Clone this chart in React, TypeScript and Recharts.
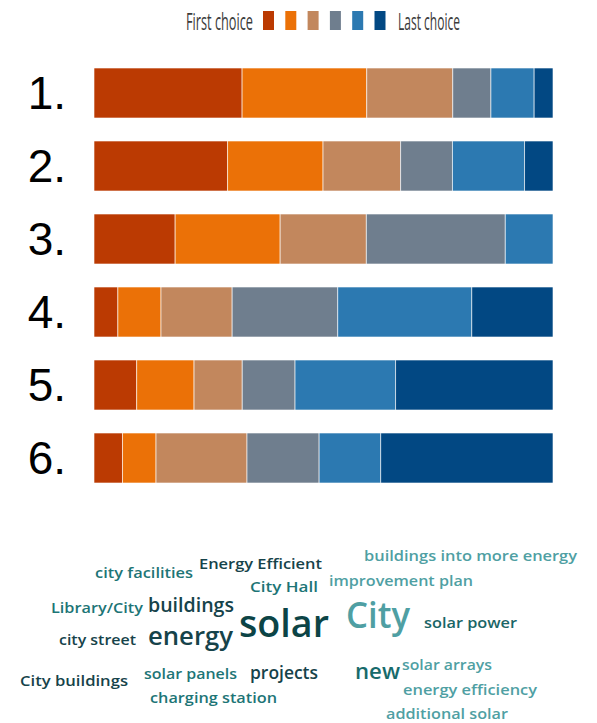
import { BarChart, Bar, XAxis, YAxis } from 'recharts';

// rows: the six ranked items
const RANKS = ['1.', '2.', '3.', '4.', '5.', '6.'];

// share of respondents (%) by choice position, one array per position
const FIRST = [32.2, 29.1, 17.7, 5.2, 9.3, 6.2];
const SECOND = [27.1, 20.8, 22.9, 9.4, 12.5, 7.3];
const THIRD = [18.7, 16.9, 18.8, 15.5, 10.5, 19.8];
const FOURTH = [8.3, 11.3, 30.3, 23.0, 11.5, 15.7];
const FIFTH = [9.4, 15.7, 10.4, 29.2, 21.9, 13.4];
const LAST = [4.1, 6.2, 0, 17.7, 34.3, 37.5];

const CHOICE_KEYS = ['first', 'second', 'third', 'fourth', 'fifth', 'last'];
const CHOICE_VALUES = [FIRST, SECOND, THIRD, FOURTH, FIFTH, LAST];
const CHOICE_COLORS = ['#bb3a02', '#eb7107', '#c2875d', '#6f7e8e', '#2c79b1', '#024883'];

const LEGEND_LABELS = ['First choice', 'Last choice'];

// word cloud terms
const WORDS = [
  'city facilities', 'Energy Efficient', 'City Hall', 'buildings into more energy',
  'improvement plan', 'Library/City', 'buildings', 'solar', 'City', 'solar power',
  'city street', 'energy', 'City buildings', 'solar panels', 'projects',
  'charging station', 'new', 'solar arrays', 'energy efficiency', 'additional solar'
];

const data = RANKS.map((rank, i) => {
  const row: Record<string, string | number> = { rank };
  CHOICE_KEYS.forEach((key, k) => {
    row[key] = CHOICE_VALUES[k][i];
  });
  return row;
});

const DARK = '#16434a';
const DEEP = '#0c4446';
const TEAL = '#1d7576';
const LIGHT = '#4f9fa3';

// placement of each word: x, baseline, font size, rendered width, colour
const WORD_LAYOUT: [number, number, number, number, string][] = [
  [95, 578, 15, 98, TEAL],
  [199, 569, 15, 123, DARK],
  [250, 592, 15, 68, TEAL],
  [364, 561, 15, 213, LIGHT],
  [329, 586, 15, 144, LIGHT],
  [51, 613, 15, 92, TEAL],
  [148, 612, 20, 86, DARK],
  [239, 637, 37, 90, DEEP],
  [346, 628, 36, 64, LIGHT],
  [424, 628, 15, 93, '#1a6566'],
  [59, 645, 15, 77, DARK],
  [148, 645, 26, 85, DARK],
  [20, 686, 15, 108, DARK],
  [144, 679, 15, 93, TEAL],
  [250, 679, 18, 68, DARK],
  [150, 703, 15, 127, TEAL],
  [355, 679, 22, 45, '#176b6b'],
  [402, 670, 15, 90, LIGHT],
  [403, 695, 15, 134, LIGHT],
  [386, 719, 15, 122, LIGHT]
];

const RankTick = (props: any) => {
  const { y, payload } = props;
  return (
    <text
      x={66}
      y={y}
      dy={16}
      textAnchor="end"
      fontSize={46}
      fontFamily="'Liberation Sans', Arial, sans-serif"
      fill="#000"
    >
      {payload.value}
    </text>
  );
};

const ChoiceLegend = () => (
  <svg width={597} height={40} style={{ position: 'absolute', left: 0, top: 0 }}>
    <text x={186} y={30} fontSize={24} fill="#3b3b3b" fontFamily="'Open Sans', sans-serif" textLength={67} lengthAdjust="spacingAndGlyphs">
      {LEGEND_LABELS[0]}
    </text>
    {CHOICE_COLORS.map((color, i) => (
      <rect key={color} x={263 + i * 22.3} y={11} width={11} height={19} fill={color} />
    ))}
    <text x={398} y={30} fontSize={24} fill="#3b3b3b" fontFamily="'Open Sans', sans-serif" textLength={62} lengthAdjust="spacingAndGlyphs">
      {LEGEND_LABELS[1]}
    </text>
  </svg>
);

const WordCloud = () => (
  <svg width={597} height={723} style={{ position: 'absolute', left: 0, top: 0, pointerEvents: 'none' }}>
    {WORDS.map((word, i) => {
      const [x, y, size, len, color] = WORD_LAYOUT[i];
      return (
        <text
          key={word}
          x={x}
          y={y}
          fontSize={size}
          fontWeight={600}
          fill={color}
          fontFamily="'Open Sans', sans-serif"
          textLength={len}
          lengthAdjust="spacingAndGlyphs"
        >
          {word}
        </text>
      );
    })}
  </svg>
);

export default function App() {
  return (
    <div style={{ position: 'absolute', left: 0, top: 0, width: 597, height: 723, background: '#fff' }}>
      <ChoiceLegend />
      <div style={{ position: 'absolute', left: 0, top: 0 }}>
        <BarChart
          width={597}
          height={500}
          data={data}
          layout="vertical"
          stackOffset="expand"
          barSize={50}
          margin={{ top: 56, right: 44, bottom: 6, left: 0 }}
        >
          <XAxis type="number" domain={[0, 1]} hide />
          <YAxis
            type="category"
            dataKey="rank"
            width={94}
            axisLine={false}
            tickLine={false}
            tick={<RankTick />}
          />
          {CHOICE_KEYS.map((key, k) => (
            <Bar
              key={key}
              dataKey={key}
              stackId="rank"
              fill={CHOICE_COLORS[k]}
              stroke="#ffffff"
              strokeOpacity={0.6}
              strokeWidth={1}
              isAnimationActive={false}
            />
          ))}
        </BarChart>
      </div>
      <WordCloud />
    </div>
  );
}
